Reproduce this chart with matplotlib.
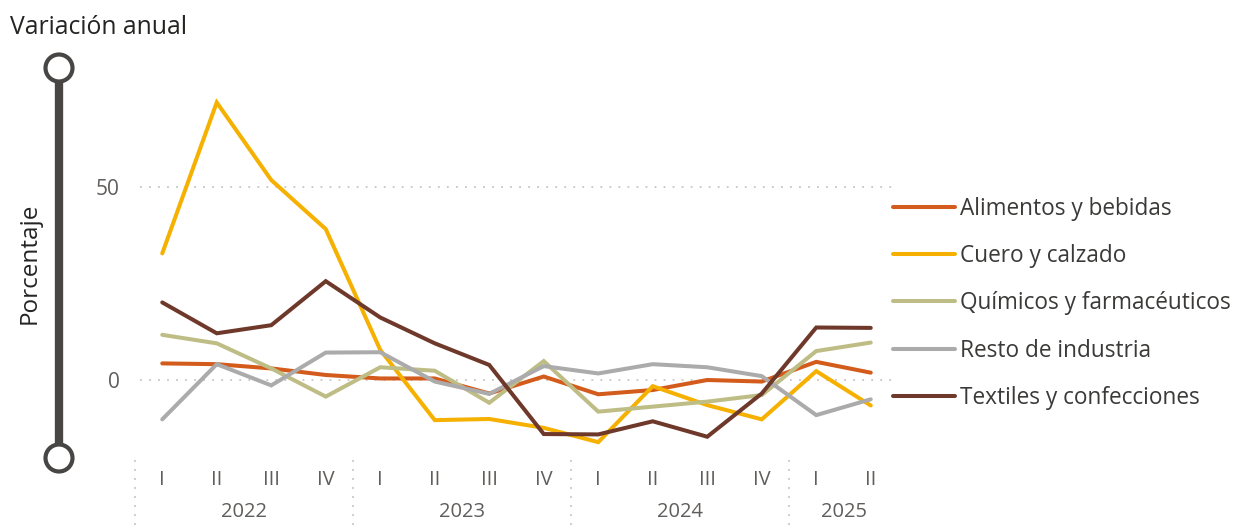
import matplotlib
matplotlib.use("Agg")
import matplotlib.pyplot as plt
from matplotlib.patches import Circle

plt.rcParams['font.family'] = ['Open Sans', 'DejaVu Sans']

quarters = ["I", "II", "III", "IV", "I", "II", "III", "IV", "I", "II", "III", "IV", "I", "II"]
years = ["2022", "2023", "2024", "2025"]
year_counts = [4, 4, 4, 2]

series_names = ["Alimentos y bebidas", "Cuero y calzado", "Químicos y farmacéuticos",
                "Resto de industria", "Textiles y confecciones"]
alimentos = [4.3, 4.1, 3.0, 1.3, 0.4, 0.4, -3.5, 0.9, -3.7, -2.6, 0.0, -0.4, 4.7, 1.9]
cuero = [32.8, 71.9, 51.8, 39.1, 7.8, -10.4, -10.1, -12.4, -16.1, -1.6, -6.5, -10.2, 2.3, -6.6]
quimicos = [11.7, 9.5, 3.0, -4.3, 3.3, 2.4, -5.9, 4.9, -8.2, -6.9, -5.6, -3.9, 7.5, 9.7]
resto = [-10.2, 4.1, -1.4, 7.1, 7.2, -0.4, -3.6, 3.6, 1.7, 4.1, 3.3, 1.0, -9.1, -5.0]
textiles = [20.1, 12.1, 14.2, 25.6, 16.2, 9.5, 3.9, -14.0, -14.1, -10.7, -14.7, -3.5, 13.6, 13.5]
yticks = [0, 50]

colors = ["#D35B1B", "#F6B100", "#BEBD85", "#ABABAB", "#6E392A"]
all_series = [alimentos, cuero, quimicos, resto, textiles]

W, H = 1236, 526
fig = plt.figure(figsize=(W / 100, H / 100), dpi=100)

ov = fig.add_axes([0, 0, 1, 1])
ov.set_xlim(0, W)
ov.set_ylim(H, 0)
ov.axis("off")

ax = fig.add_axes([135 / W, 1 - 455 / H, (898 - 135) / W, (455 - 85) / H])
x = list(range(len(quarters)))
for name, vals, c in zip(series_names, all_series, colors):
    ax.plot(x, vals, color=c, lw=2.9, label=name, solid_capstyle="round", solid_joinstyle="miter")

ax.set_xlim(-0.5, len(quarters) - 0.5)
ax.set_ylim((380 - 455) / 3.86, (380 - 85) / 3.86)
for s in ax.spines.values():
    s.set_visible(False)
ax.set_yticks(yticks)
ax.set_yticklabels([str(v) for v in yticks], fontsize=15, color="#605E5C")
ax.tick_params(axis="y", length=0, pad=11)
ax.set_xticks([])
for v in yticks:
    ax.axhline(v, color="#C8C6C4", lw=1.3, ls=(0, (1, 4)), zorder=0, xmin=0.007, xmax=0.993)

xt = ax.get_xaxis_transform()
for i, q in enumerate(quarters):
    ax.text(i, -0.068, q, transform=xt, ha="center", va="center", fontsize=14.5, color="#605E5C")
start = 0
for yr, n in zip(years, year_counts):
    mid = start + (n - 1) / 2
    ax.text(mid, -0.155, yr, transform=xt, ha="center", va="center", fontsize=14.5, color="#605E5C")
    ax.plot([start - 0.5, start - 0.5], [-0.014, -0.2], transform=xt,
            clip_on=False, color="#C8C6C4", lw=1.3, ls=(0, (1, 4)))
    start += n

leg = ax.legend(loc="center left", bbox_to_anchor=(0.9934, 0.41), frameon=False,
                fontsize=16.3, handlelength=2.75, handletextpad=0.22, labelspacing=1.03,
                borderaxespad=0, borderpad=0, labelcolor="#3B3A39")

ov.text(10, 27, "Variación anual", fontsize=17.8, color="#252423", ha="left", va="center")
ov.text(30, 263, "Porcentaje", fontsize=17.5, color="#252423", rotation=90, ha="center", va="center")
ov.plot([59, 59], [68, 458], color="#484644", lw=6, solid_capstyle="butt", zorder=2)
for cy in (68, 458):
    ov.add_patch(Circle((59, cy), 13.5, facecolor="white", edgecolor="#484644", lw=3, zorder=3))

fig.savefig("out.png", dpi=100)
